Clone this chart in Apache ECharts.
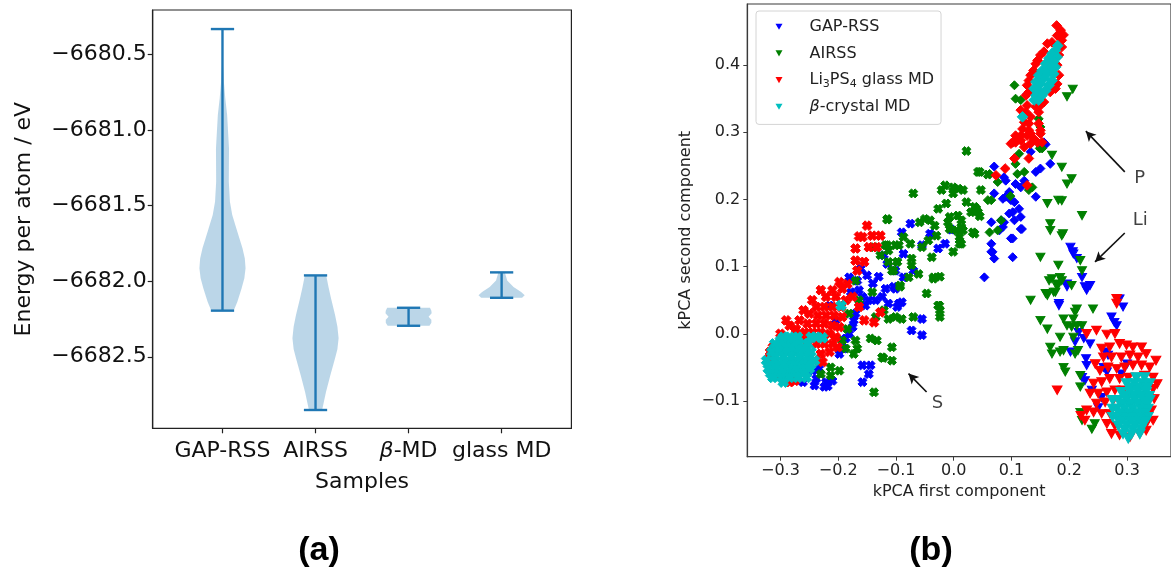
<!DOCTYPE html>
<html>
<head>
<meta charset="utf-8">
<script src="https://cdn.jsdelivr.net/npm/echarts@6.0.0/dist/echarts.min.js"></script>
<style>
  html, body { margin: 0; padding: 0; background: #fff; }
  #chart { width: 1171px; height: 569px; }
</style>
</head>
<body>
<div id="chart"></div>
<script>
// ===== (a) Energy per atom for each sampling method =====
const samples = ['GAP-RSS', 'AIRSS', 'β-MD', 'glass MD'];
const energyTicks = [-6682.5, -6682.0, -6681.5, -6681.0, -6680.5];

// Violin outlines: energy (eV/atom, from maximum down to minimum) and KDE half-width
const gapRssE = [-6680.333, -6680.571, -6680.681, -6680.791, -6680.901, -6681.122, -6681.342, -6681.475, -6681.563, -6681.673, -6681.783, -6681.850, -6681.915, -6681.980, -6682.048, -6682.136, -6682.195];
const gapRssW = [0.004, 0.006, 0.015, 0.030, 0.050, 0.070, 0.068, 0.080, 0.105, 0.160, 0.215, 0.240, 0.248, 0.235, 0.205, 0.160, 0.120];
const airssE = [-6681.962, -6682.040, -6682.114, -6682.224, -6682.300, -6682.378, -6682.450, -6682.510, -6682.621, -6682.731, -6682.841, -6682.852];
const airssW = [0.115, 0.140, 0.167, 0.210, 0.235, 0.248, 0.235, 0.210, 0.160, 0.113, 0.075, 0.070];
const betaMdE = [-6682.176, -6682.195, -6682.213, -6682.235, -6682.255, -6682.275, -6682.295];
const betaMdW = [0.230, 0.245, 0.248, 0.215, 0.245, 0.245, 0.225];
const glassMdE = [-6681.942, -6681.995, -6682.039, -6682.072, -6682.094, -6682.110];
const glassMdW = [0.035, 0.060, 0.128, 0.210, 0.248, 0.220];

// ===== (b) kPCA map of atomic environments =====
const kpcaXTicks = [-0.3, -0.2, -0.1, 0.0, 0.1, 0.2, 0.3];
const kpcaYTicks = [-0.1, 0.0, 0.1, 0.2, 0.3, 0.4];
const groups = ['GAP-RSS', 'AIRSS', 'Li3PS4 glass MD', 'β-crystal MD'];

// GAP-RSS: S, P and Li environments
const gapS = [[-0.075,0.164],[-0.090,0.151],[-0.055,0.132],[-0.015,0.134],[-0.027,0.127],[-0.087,0.119],[-0.070,0.094],[-0.087,0.084],[-0.104,0.070],[-0.090,0.047],[-0.098,0.040],[-0.121,0.117],[-0.115,0.104],[-0.101,0.094],[-0.161,0.097],[-0.150,0.087],[-0.181,0.084],[-0.167,0.079],[-0.118,0.067],[-0.101,0.067],[-0.158,0.055],[-0.147,0.050],[-0.135,0.050],[-0.124,0.055],[-0.113,0.045],[-0.095,0.045],[-0.164,0.065],[-0.153,0.042],[-0.215,0.042],[-0.173,0.020],[-0.175,0.010],[-0.181,0.000],[-0.187,-0.007],[-0.190,-0.022],[-0.198,-0.030],[-0.233,-0.052],[-0.244,-0.055],[-0.238,-0.067],[-0.221,-0.072],[-0.261,-0.072],[-0.158,-0.047],[-0.144,-0.047],[-0.147,-0.060],[-0.158,-0.072],[-0.224,-0.079],[-0.210,-0.070],[-0.218,-0.078],[-0.241,-0.077],[-0.073,0.005],[-0.055,0.022],[-0.055,-0.002],[-0.004,0.155],[-0.041,0.149],[-0.178,0.062],[-0.140,0.075],[-0.130,0.085],[-0.170,0.030],[-0.205,0.020]];
const gapP = [[0.133,0.271],[0.156,0.285],[0.070,0.249],[0.087,0.233],[0.142,0.241],[0.150,0.246],[0.167,0.253],[0.090,0.228],[0.107,0.223],[0.116,0.218],[0.122,0.228],[0.096,0.211],[0.070,0.209],[0.085,0.201],[0.105,0.196],[0.142,0.204],[0.102,0.181],[0.113,0.186],[0.116,0.174],[0.096,0.179],[0.065,0.166],[0.082,0.169],[0.085,0.159],[0.105,0.169],[0.079,0.154],[0.116,0.156],[0.099,0.142],[0.065,0.134],[0.067,0.122],[0.070,0.112],[0.102,0.114],[0.053,0.084],[0.159,0.282],[0.127,0.357],[0.090,0.204],[0.099,0.199],[0.087,0.166],[0.118,0.156],[0.065,0.122],[0.102,0.142]];
const gapLi = [[0.202,0.129],[0.207,0.119],[0.196,0.074],[0.182,0.045],[0.206,0.122],[0.213,0.112],[0.222,0.084],[0.230,0.065],[0.227,0.070],[0.236,0.072],[0.196,0.070],[0.182,0.042],[0.287,0.052],[0.293,0.040],[0.273,0.025],[0.278,0.017],[0.282,0.012],[0.216,0.002],[0.210,-0.012],[0.225,-0.007],[0.236,-0.015],[0.202,-0.027],[0.229,-0.037],[0.230,-0.047],[0.262,-0.027],[0.267,-0.032],[0.222,-0.065],[0.227,-0.070],[0.259,-0.050],[0.265,-0.057],[0.239,-0.084],[0.250,-0.110],[0.256,-0.095],[0.290,-0.060],[0.300,-0.045]];

// AIRSS: S, P and Li environments
const airssS = [[-0.015,0.221],[-0.001,0.218],[0.008,0.216],[0.016,0.214],[-0.021,0.214],[-0.013,0.194],[0.022,0.196],[-0.027,0.186],[-0.070,0.209],[-0.007,0.174],[-0.010,0.166],[0.007,0.176],[-0.050,0.171],[-0.041,0.169],[-0.033,0.161],[-0.059,0.166],[-0.007,0.156],[0.013,0.159],[0.016,0.154],[-0.030,0.146],[0.010,0.144],[0.010,0.134],[-0.001,0.122],[-0.044,0.139],[-0.038,0.114],[-0.055,0.129],[-0.075,0.134],[-0.095,0.132],[-0.115,0.132],[-0.113,0.124],[-0.104,0.094],[-0.098,0.107],[-0.073,0.102],[-0.078,0.084],[-0.061,0.089],[-0.035,0.084],[-0.024,0.085],[-0.047,0.060],[-0.027,0.042],[-0.093,0.070],[-0.115,0.170],[-0.073,0.112],[0.022,0.272],[0.045,0.241],[0.059,0.237],[-0.001,0.209],[0.030,0.181],[0.039,0.186],[0.045,0.175],[0.013,0.169],[0.005,0.154],[0.036,0.149],[0.013,0.134],[0.042,0.241],[0.036,0.189],[0.042,0.181],[0.033,0.151],[0.047,0.214],[-0.115,0.171],[-0.087,0.144],[-0.138,0.129],[-0.118,0.132],[-0.101,0.132],[-0.127,0.117],[-0.113,0.107],[-0.098,0.107],[-0.107,0.094],[-0.170,0.079],[-0.141,0.062],[-0.093,0.072],[-0.164,0.050],[-0.121,0.035],[-0.135,0.025],[-0.113,0.022],[-0.101,0.025],[-0.090,0.022],[-0.181,0.030],[-0.184,0.007],[-0.193,-0.010],[-0.170,-0.010],[-0.144,-0.007],[-0.133,-0.010],[-0.187,-0.022],[-0.167,-0.022],[-0.173,-0.030],[-0.124,-0.035],[-0.107,-0.020],[-0.107,-0.040],[-0.213,-0.050],[-0.230,-0.060],[-0.213,-0.062],[-0.198,-0.055],[-0.138,-0.087],[-0.070,0.025],[-0.024,0.035],[-0.024,0.025],[-0.025,0.042],[-0.122,-0.036],[-0.035,0.082]];
const airssP = [[0.105,0.370],[0.107,0.350],[0.116,0.348],[0.147,0.320],[0.150,0.278],[0.113,0.268],[0.062,0.238],[0.107,0.253],[0.122,0.241],[0.130,0.214],[0.059,0.199],[0.062,0.151],[0.076,0.154],[0.076,0.226],[0.065,0.199],[0.082,0.169],[0.110,0.238],[0.136,0.218],[0.098,0.205],[0.150,0.308],[0.149,0.276],[0.153,0.276]];
const airssLi = [[0.206,0.364],[0.196,0.353],[0.170,0.266],[0.187,0.248],[0.196,0.223],[0.204,0.231],[0.162,0.194],[0.181,0.199],[0.187,0.198],[0.167,0.164],[0.167,0.154],[0.187,0.146],[0.150,0.114],[0.181,0.102],[0.184,0.084],[0.170,0.082],[0.179,0.074],[0.159,0.060],[0.173,0.062],[0.133,0.050],[0.222,0.176],[0.189,0.149],[0.219,0.109],[0.222,0.094],[0.165,0.079],[0.187,0.079],[0.162,0.057],[0.176,0.062],[0.213,0.037],[0.210,0.032],[0.241,0.037],[0.190,0.022],[0.207,0.022],[0.150,0.020],[0.162,0.007],[0.196,0.012],[0.204,0.010],[0.213,0.012],[0.222,0.012],[0.184,-0.005],[0.207,-0.005],[0.167,-0.020],[0.170,-0.030],[0.184,-0.027],[0.190,-0.025],[0.210,-0.030],[0.215,-0.025],[0.193,-0.057],[0.219,-0.062],[0.219,-0.079],[0.244,-0.134],[0.239,-0.142],[0.219,-0.117],[0.222,-0.129],[0.190,-0.050],[0.204,0.072],[0.179,0.070]];

// Li3PS4 glass MD: S, P and Li environments
const glassS = [[-0.150,0.161],[-0.164,0.145],[-0.158,0.144],[-0.141,0.146],[-0.127,0.146],[-0.147,0.129],[-0.133,0.129],[-0.170,0.127],[-0.170,0.109],[-0.155,0.107],[-0.167,0.094],[-0.198,0.077],[-0.184,0.074],[-0.193,0.067],[-0.210,0.065],[-0.221,0.055],[-0.204,0.055],[-0.187,0.050],[-0.175,0.055],[-0.238,0.040],[-0.224,0.040],[-0.210,0.040],[-0.195,0.040],[-0.250,0.030],[-0.235,0.027],[-0.221,0.027],[-0.207,0.027],[-0.193,0.025],[-0.267,0.020],[-0.253,0.015],[-0.238,0.015],[-0.224,0.015],[-0.210,0.012],[-0.198,0.010],[-0.284,0.012],[-0.273,0.007],[-0.258,0.002],[-0.244,0.002],[-0.230,0.002],[-0.215,0.000],[-0.204,-0.005],[-0.313,-0.020],[-0.318,-0.035],[-0.307,-0.060],[-0.284,-0.072],[-0.275,-0.070],[-0.238,-0.015],[-0.224,-0.015],[-0.210,-0.015],[-0.230,-0.030],[-0.215,-0.027],[-0.241,-0.040],[-0.227,-0.042],[-0.164,0.040],[-0.155,0.020],[-0.127,0.032],[-0.138,0.017],[-0.201,-0.020],[-0.318,-0.027],[-0.290,0.020],[-0.260,0.035],[-0.245,0.050],[-0.230,0.065],[-0.253,-0.010],[-0.265,-0.005],[-0.300,0.000],[-0.295,-0.015]];
const glassP = [[0.178,0.459],[0.179,0.444],[0.187,0.437],[0.162,0.432],[0.170,0.434],[0.187,0.427],[0.190,0.445],[0.185,0.452],[0.150,0.415],[0.156,0.420],[0.182,0.415],[0.142,0.402],[0.145,0.407],[0.179,0.400],[0.133,0.385],[0.138,0.392],[0.182,0.385],[0.127,0.370],[0.130,0.377],[0.179,0.372],[0.125,0.355],[0.130,0.360],[0.145,0.350],[0.167,0.360],[0.176,0.365],[0.127,0.340],[0.150,0.340],[0.156,0.345],[0.142,0.338],[0.116,0.333],[0.125,0.330],[0.147,0.330],[0.133,0.323],[0.122,0.315],[0.130,0.313],[0.147,0.313],[0.119,0.305],[0.130,0.303],[0.150,0.303],[0.107,0.295],[0.127,0.295],[0.139,0.290],[0.116,0.288],[0.099,0.283],[0.107,0.285],[0.133,0.283],[0.145,0.285],[0.122,0.278],[0.153,0.285],[0.105,0.261],[0.130,0.261],[0.089,0.246],[0.073,0.236],[0.127,0.221],[0.102,0.285],[0.116,0.295],[0.133,0.298],[0.150,0.298]];
const glassLi = [[0.247,0.005],[0.265,-0.001],[0.279,0.000],[0.287,-0.015],[0.270,-0.020],[0.256,-0.022],[0.299,-0.017],[0.310,-0.020],[0.325,-0.020],[0.333,-0.030],[0.319,-0.035],[0.305,-0.032],[0.290,-0.035],[0.273,-0.035],[0.259,-0.035],[0.245,-0.045],[0.253,-0.055],[0.267,-0.050],[0.282,-0.052],[0.296,-0.050],[0.310,-0.047],[0.325,-0.047],[0.339,-0.050],[0.345,-0.065],[0.330,-0.062],[0.316,-0.065],[0.302,-0.065],[0.287,-0.067],[0.270,-0.067],[0.256,-0.072],[0.242,-0.074],[0.236,-0.089],[0.250,-0.089],[0.265,-0.087],[0.279,-0.084],[0.293,-0.084],[0.345,-0.082],[0.347,-0.097],[0.342,-0.114],[0.345,-0.129],[0.333,-0.134],[0.247,-0.104],[0.262,-0.102],[0.276,-0.099],[0.230,-0.114],[0.242,-0.117],[0.256,-0.119],[0.270,-0.119],[0.265,-0.134],[0.279,-0.137],[0.273,-0.149],[0.287,-0.151],[0.305,-0.154],[0.322,-0.149],[0.333,-0.144],[0.179,-0.084],[0.282,0.052],[0.282,0.045],[0.227,-0.129],[0.220,-0.122],[0.230,0.000],[0.350,-0.040],[0.352,-0.075]];

// β-crystal MD: S, P and Li environments
const crystalS = [[-0.295,-0.005],[-0.284,-0.005],[-0.270,-0.005],[-0.247,-0.005],[-0.238,-0.005],[-0.227,-0.006],[-0.300,-0.010],[-0.288,-0.010],[-0.276,-0.010],[-0.310,-0.015],[-0.295,-0.015],[-0.281,-0.015],[-0.267,-0.015],[-0.253,-0.015],[-0.303,-0.021],[-0.289,-0.021],[-0.275,-0.021],[-0.261,-0.021],[-0.315,-0.027],[-0.301,-0.027],[-0.287,-0.027],[-0.273,-0.027],[-0.258,-0.027],[-0.247,-0.027],[-0.308,-0.034],[-0.294,-0.034],[-0.280,-0.034],[-0.266,-0.034],[-0.252,-0.034],[-0.324,-0.040],[-0.310,-0.040],[-0.295,-0.040],[-0.281,-0.040],[-0.267,-0.040],[-0.253,-0.040],[-0.241,-0.040],[-0.316,-0.046],[-0.302,-0.046],[-0.288,-0.046],[-0.274,-0.046],[-0.260,-0.046],[-0.247,-0.046],[-0.321,-0.052],[-0.307,-0.052],[-0.293,-0.052],[-0.278,-0.052],[-0.264,-0.052],[-0.250,-0.052],[-0.317,-0.059],[-0.303,-0.059],[-0.289,-0.059],[-0.275,-0.059],[-0.261,-0.059],[-0.313,-0.065],[-0.298,-0.065],[-0.284,-0.065],[-0.270,-0.065],[-0.255,-0.065],[-0.295,-0.072],[-0.195,0.042]];
const crystalP = [[0.180,0.429],[0.176,0.422],[0.170,0.417],[0.179,0.412],[0.165,0.410],[0.173,0.405],[0.159,0.402],[0.176,0.397],[0.167,0.395],[0.153,0.392],[0.162,0.387],[0.173,0.387],[0.147,0.385],[0.156,0.380],[0.170,0.377],[0.142,0.375],[0.150,0.372],[0.165,0.370],[0.139,0.365],[0.147,0.362],[0.159,0.362],[0.142,0.355],[0.153,0.355],[0.139,0.348],[0.147,0.348],[0.119,0.323]];
const crystalLi = [[0.316,-0.065],[0.330,-0.065],[0.299,-0.074],[0.313,-0.074],[0.327,-0.074],[0.339,-0.074],[0.306,-0.080],[0.320,-0.080],[0.334,-0.080],[0.290,-0.087],[0.305,-0.087],[0.319,-0.087],[0.333,-0.087],[0.297,-0.093],[0.311,-0.093],[0.326,-0.093],[0.338,-0.093],[0.275,-0.099],[0.285,-0.099],[0.299,-0.099],[0.313,-0.099],[0.327,-0.099],[0.339,-0.099],[0.292,-0.105],[0.306,-0.105],[0.320,-0.105],[0.333,-0.105],[0.275,-0.112],[0.282,-0.112],[0.296,-0.112],[0.310,-0.112],[0.325,-0.112],[0.336,-0.112],[0.289,-0.118],[0.303,-0.118],[0.317,-0.118],[0.331,-0.118],[0.275,-0.124],[0.282,-0.124],[0.296,-0.124],[0.310,-0.124],[0.325,-0.124],[0.336,-0.124],[0.290,-0.130],[0.304,-0.130],[0.318,-0.130],[0.332,-0.130],[0.285,-0.137],[0.299,-0.137],[0.313,-0.137],[0.327,-0.137],[0.296,-0.143],[0.310,-0.143],[0.324,-0.143],[0.293,-0.149],[0.308,-0.149],[0.322,-0.149],[0.302,-0.156]];

// Element labels with their arrows
const elementLabels = ['P', 'Li', 'S'];
const elementLabelAt = [[0.3216, 0.2312], [0.3229, 0.169], [-0.028, -0.104]];
const arrowTail = [[0.296, 0.241], [0.296, 0.150], [-0.047, -0.0867]];
const arrowHead = [[0.2286, 0.3017], [0.2445, 0.107], [-0.0783, -0.0593]];

// ----- styling helpers -----
const FONT = 'DejaVu Sans';
const VIOLIN_BLUE = '#1f77b4';
const groupColors = ['#0000ff', '#008000', '#ff0000', '#00bfbf'];
// MD trajectories are drawn with slightly larger marks so the dense clouds read as solid
const groupScale = [1, 1, 1.08, 1.18];
// filled "X" marker for S, diamond for P, down-pointing triangle for Li
const markerX = 'path://M0,3L3,0L5,2L7,0L10,3L8,5L10,7L7,10L5,8L3,10L0,7L2,5Z';
const markerV = 'path://M0,0L10,0L5,8.7Z';
const speciesSymbols = [markerX, 'diamond', markerV];
const speciesSizes = [[9, 9], [9, 9], [9, 8]];

const minusSign = s => s.replace('-', '\u2212');
const richName = s => s.replace('Li3PS4', 'Li{sub|3}PS{sub|4}').replace('β', '{it|β}');

const violinProfiles = [[gapRssE, gapRssW], [airssE, airssW], [betaMdE, betaMdW], [glassMdE, glassMdW]];
const CAP = 0.125;

function renderViolin(params, api) {
  const pos = api.value(0);
  const [E, W] = violinProfiles[api.value(2)];
  const right = [], left = [];
  for (let k = 0; k < E.length; k++) {
    right.push(api.coord([pos + W[k], E[k]]));
    left.unshift(api.coord([pos - W[k], E[k]]));
  }
  const top = E[0], bottom = E[E.length - 1];
  const line = (a, b) => ({
    type: 'line',
    shape: { x1: a[0], y1: a[1], x2: b[0], y2: b[1] },
    style: { stroke: VIOLIN_BLUE, lineWidth: 2.4 }
  });
  return {
    type: 'group',
    children: [
      { type: 'polygon', shape: { points: right.concat(left) }, style: { fill: 'rgba(31,119,180,0.3)' } },
      line(api.coord([pos, top]), api.coord([pos, bottom])),
      line(api.coord([pos - CAP, top]), api.coord([pos + CAP, top])),
      line(api.coord([pos - CAP, bottom]), api.coord([pos + CAP, bottom]))
    ]
  };
}

const groupData = [
  [gapS, gapP, gapLi],
  [airssS, airssP, airssLi],
  [glassS, glassP, glassLi],
  [crystalS, crystalP, crystalLi]
];
const scatterSeries = [];
groupData.forEach((sets, g) => sets.forEach((pts, s) => scatterSeries.push({
  type: 'scatter',
  name: groups[g],
  xAxisIndex: 1, yAxisIndex: 1,
  data: pts,
  symbol: speciesSymbols[s],
  symbolSize: speciesSizes[s].map(d => d * groupScale[g]),
  itemStyle: { color: groupColors[g], borderColor: groupColors[g], borderWidth: 1, opacity: 1 },
  silent: true
})));

const chart = echarts.init(document.getElementById('chart'), null, { renderer: 'canvas' });
const leftText = { fontFamily: FONT, fontSize: 22, color: '#111' };
const rightText = { fontFamily: FONT, fontSize: 16, color: '#222' };

chart.setOption({
  animation: false,
  backgroundColor: '#ffffff',
  textStyle: { fontFamily: FONT },
  grid: [
    { left: 152.7, top: 10, width: 418.7, height: 418.3, show: true, borderColor: '#222', borderWidth: 1.2, backgroundColor: 'transparent' },
    { left: 747.3, top: 4, width: 427.7, height: 452.7, show: true, borderColor: '#3a3a3a', borderWidth: 1.2, backgroundColor: 'transparent' }
  ],
  xAxis: [
    {
      gridIndex: 0, type: 'value', min: 0.25, max: 4.75,
      splitLine: { show: false },
      axisLine: { onZero: false, lineStyle: { color: '#222', width: 1.2 } },
      axisTick: { customValues: [1, 2, 3, 4], length: 5, lineStyle: { color: '#222', width: 1.2 } },
      axisLabel: {
        customValues: [1, 2, 3, 4], margin: 12, ...leftText,
        formatter: v => richName(samples[Math.round(v) - 1]),
        rich: { it: { ...leftText, fontStyle: 'italic' } }
      },
      name: 'Samples', nameLocation: 'middle', nameGap: 43, nameTextStyle: leftText
    },
    {
      gridIndex: 1, type: 'value', min: -0.3573, max: 0.376,
      splitLine: { show: false },
      axisLine: { onZero: false, lineStyle: { color: '#3a3a3a', width: 1.2 } },
      axisTick: { customValues: kpcaXTicks, length: 4, lineStyle: { color: '#3a3a3a' } },
      axisLabel: { customValues: kpcaXTicks, margin: 6, ...rightText, formatter: v => minusSign(v.toFixed(1)) },
      name: 'kPCA first component', nameLocation: 'middle', nameGap: 26, nameTextStyle: rightText
    }
  ],
  yAxis: [
    {
      gridIndex: 0, type: 'value', min: -6682.973, max: -6680.207,
      splitLine: { show: false },
      axisLine: { onZero: false, lineStyle: { color: '#222', width: 1.2 } },
      axisTick: { customValues: energyTicks, length: 5, lineStyle: { color: '#222', width: 1.2 } },
      axisLabel: { customValues: energyTicks, margin: 6, ...leftText, formatter: v => minusSign(v.toFixed(1)) },
      name: 'Energy per atom / eV', nameLocation: 'middle', nameGap: 117, nameRotate: 90, nameTextStyle: leftText
    },
    {
      gridIndex: 1, type: 'value', min: -0.183, max: 0.491,
      splitLine: { show: false },
      axisLine: { onZero: false, lineStyle: { color: '#3a3a3a', width: 1.2 } },
      axisTick: { customValues: kpcaYTicks, length: 4, lineStyle: { color: '#3a3a3a' } },
      axisLabel: { customValues: kpcaYTicks, margin: 7, ...rightText, formatter: v => minusSign(v.toFixed(1)) },
      name: 'kPCA second component', nameLocation: 'middle', nameGap: 53, nameRotate: 90, nameTextStyle: rightText
    }
  ],
  legend: {
    data: groups.map((n, g) => ({ name: n, icon: markerV, itemStyle: { color: groupColors[g], borderWidth: 0 } })),
    orient: 'vertical',
    left: 756, top: 11,
    itemWidth: 7, itemHeight: 7, itemGap: 6.7,
    padding: [5.7, 7, 7.6, 19.5],
    backgroundColor: 'rgba(255,255,255,0.8)',
    borderColor: '#d4d4d4', borderWidth: 1, borderRadius: 3,
    selectedMode: false,
    formatter: n => '{pad| }' + richName(n),
    textStyle: {
      ...rightText, lineHeight: 20,
      rich: {
        pad: { width: 22, fontSize: 16, fontFamily: FONT },
        sub: { fontFamily: FONT, fontSize: 11, color: '#222', lineHeight: 11, verticalAlign: 'bottom' },
        it: { fontFamily: FONT, fontSize: 16, color: '#222', fontStyle: 'italic', lineHeight: 20 }
      }
    }
  },
  series: [
    {
      type: 'custom', xAxisIndex: 0, yAxisIndex: 0,
      data: samples.map((s, i) => [i + 1, violinProfiles[i][0][0], i]),
      encode: { x: 0, y: 1 },
      renderItem: renderViolin,
      silent: true
    },
    ...scatterSeries,
    {
      type: 'scatter', xAxisIndex: 1, yAxisIndex: 1,
      symbolSize: 1, itemStyle: { color: 'rgba(0,0,0,0)' },
      data: elementLabelAt.map((p, i) => ({ value: p, label: { formatter: elementLabels[i] } })),
      label: { show: true, position: 'inside', fontFamily: FONT, fontSize: 18, color: '#111' },
      markLine: {
        silent: true, animation: false,
        symbol: ['none', 'arrow'], symbolSize: [8, 10],
        lineStyle: { color: '#111', width: 1.6, type: 'solid' },
        label: { show: false },
        emphasis: { disabled: true },
        data: arrowTail.map((t, i) => [{ coord: t }, { coord: arrowHead[i] }])
      },
      silent: true, z: 5
    }
  ],
  graphic: [
    { type: 'text', x: 319, y: 551, style: { text: '(a)', fontFamily: 'Liberation Sans', fontWeight: 'bold', fontSize: 34, fill: '#000', align: 'center', verticalAlign: 'middle' } },
    { type: 'text', x: 931, y: 551, style: { text: '(b)', fontFamily: 'Liberation Sans', fontWeight: 'bold', fontSize: 34, fill: '#000', align: 'center', verticalAlign: 'middle' } }
  ]
});
</script>
</body>
</html>
